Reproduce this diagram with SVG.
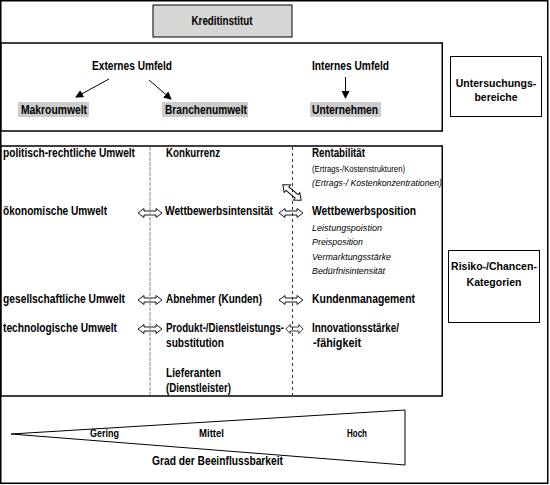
<svg xmlns="http://www.w3.org/2000/svg" width="550" height="485" viewBox="0 0 550 485">
<defs>
<style>
text{font-family:"Liberation Sans Narrow","Liberation Sans",Arial,sans-serif;fill:#000}
.b{font-weight:bold;font-size:12.5px}
.bl{font-weight:bold;font-size:13.5px}
.bs{font-weight:bold;font-size:10.5px}
.s{font-size:9.5px}
.i{font-size:9.5px;font-style:italic}
.box{fill:none;stroke:#000;stroke-width:1.5}
.lab{fill:#cccccc}
.dbl{fill:#fff;stroke:#000;stroke-width:0.9}
.ln{stroke:#000;stroke-width:1;fill:none}
</style>
<marker id="ah" markerWidth="8" markerHeight="8" refX="7" refY="4" orient="auto" markerUnits="userSpaceOnUse">
<path d="M0,0 L8,4 L0,8 z" fill="#000"/>
</marker>
<polygon id="dh" points="-12,0 -6,-4.5 -6,-2 6,-2 6,-4.5 12,0 6,4.5 6,2 -6,2 -6,4.5"/>
</defs>
<rect x="0.75" y="0.75" width="547" height="482.5" fill="#fff" stroke="#000" stroke-width="1.5"/>

<g id="kreditinstitut">
<rect x="153" y="5" width="139" height="32" fill="#d6d6d6" stroke="#000" stroke-width="1"/>
<text class="b" x="222" y="25" text-anchor="middle" textLength="61" lengthAdjust="spacingAndGlyphs">Kreditinstitut</text>
</g>

<g id="umfeld-box">
<rect class="box" x="0.75" y="43" width="441.5" height="88"/>
<text class="b" x="92" y="70" textLength="80" lengthAdjust="spacingAndGlyphs">Externes Umfeld</text>
<text class="b" x="312" y="70" textLength="77" lengthAdjust="spacingAndGlyphs">Internes Umfeld</text>
</g>
<g id="makroumwelt">
<rect class="lab" x="18" y="102" width="71" height="15"/>
<text class="b" x="21" y="114" textLength="66" lengthAdjust="spacingAndGlyphs">Makroumwelt</text>
</g>
<g id="branchenumwelt">
<rect class="lab" x="162" y="102" width="86" height="15"/>
<text class="b" x="165" y="114" textLength="82" lengthAdjust="spacingAndGlyphs">Branchenumwelt</text>
</g>
<g id="unternehmen">
<rect class="lab" x="310" y="102" width="71" height="15"/>
<text class="b" x="312" y="114" textLength="66" lengthAdjust="spacingAndGlyphs">Unternehmen</text>
</g>

<g id="untersuchungsbereiche">
<rect x="450.5" y="56.5" width="91" height="60" fill="none" stroke="#000" stroke-width="1"/>
<text class="bs" x="496" y="87" text-anchor="middle">Untersuchungs-</text>
<text class="bs" x="496" y="101" text-anchor="middle">bereiche</text>
</g>

<g id="kategorien-box">
<rect class="box" x="0.75" y="146" width="441.5" height="250"/>
</g>

<g id="risiko">
<rect x="448.5" y="250.5" width="91" height="72" fill="none" stroke="#000" stroke-width="1"/>
<text class="bs" x="494" y="270" text-anchor="middle">Risiko-/Chancen-</text>
<text class="bs" x="494" y="286" text-anchor="middle">Kategorien</text>
</g>

<g id="makro-col">
<text class="b" x="3" y="157" textLength="132" lengthAdjust="spacingAndGlyphs">politisch-rechtliche Umwelt</text>
<text class="b" x="3" y="215" textLength="104" lengthAdjust="spacingAndGlyphs">ökonomische Umwelt</text>
<text class="b" x="3" y="303" textLength="122" lengthAdjust="spacingAndGlyphs">gesellschaftliche Umwelt</text>
<text class="b" x="3" y="332" textLength="114" lengthAdjust="spacingAndGlyphs">technologische Umwelt</text>
</g>

<g id="branchen-col">
<text class="b" x="166" y="157" textLength="54" lengthAdjust="spacingAndGlyphs">Konkurrenz</text>
<text class="b" x="165" y="215" textLength="108" lengthAdjust="spacingAndGlyphs">Wettbewerbsintensität</text>
<text class="b" x="166" y="303" textLength="96" lengthAdjust="spacingAndGlyphs">Abnehmer (Kunden)</text>
<text class="b" x="166" y="332" textLength="118" lengthAdjust="spacingAndGlyphs">Produkt-/Dienstleistungs-</text>
<text class="b" x="166" y="347" textLength="58" lengthAdjust="spacingAndGlyphs">substitution</text>
<text class="b" x="166" y="377" textLength="55" lengthAdjust="spacingAndGlyphs">Lieferanten</text>
<text class="b" x="166" y="392" textLength="65" lengthAdjust="spacingAndGlyphs">(Dienstleister)</text>
</g>

<g id="unternehmen-col">
<text class="bl" x="312" y="157" textLength="53" lengthAdjust="spacingAndGlyphs">Rentabilität</text>
<text class="s" x="312" y="172" textLength="93" lengthAdjust="spacingAndGlyphs">(Ertrags-/Kostenstrukturen)</text>
<text class="i" x="312" y="186" textLength="130" lengthAdjust="spacingAndGlyphs">(Ertrags-/ Kostenkonzentrationen)</text>
<text class="bl" x="312" y="215" textLength="104" lengthAdjust="spacingAndGlyphs">Wettbewerbsposition</text>
<text class="i" x="312" y="231" textLength="70" lengthAdjust="spacingAndGlyphs">Leistungspoistion</text>
<text class="i" x="312" y="245" textLength="51" lengthAdjust="spacingAndGlyphs">Preisposition</text>
<text class="i" x="312" y="260" textLength="79" lengthAdjust="spacingAndGlyphs">Vermarktungsstärke</text>
<text class="i" x="312" y="274" textLength="73" lengthAdjust="spacingAndGlyphs">Bedürfnisintensität</text>
<text class="b" x="312" y="303" textLength="103" lengthAdjust="spacingAndGlyphs">Kundenmanagement</text>
<text class="b" x="312" y="332" textLength="87" lengthAdjust="spacingAndGlyphs">Innovationsstärke/</text>
<text class="b" x="313" y="347" textLength="48" lengthAdjust="spacingAndGlyphs">-fähigkeit</text>
</g>

<g id="beeinflussbarkeit">
<polygon points="11,434 405,410 405,465" fill="none" stroke="#000" stroke-width="1"/>
<text class="b" x="90" y="437" style="font-size:10px" textLength="29" lengthAdjust="spacingAndGlyphs">Gering</text>
<text class="b" x="199" y="437" style="font-size:10px" textLength="25" lengthAdjust="spacingAndGlyphs">Mittel</text>
<text class="b" x="347" y="437" style="font-size:10px" textLength="20" lengthAdjust="spacingAndGlyphs">Hoch</text>
<text class="b" x="152" y="465" textLength="131" lengthAdjust="spacingAndGlyphs">Grad der Beeinflussbarkeit</text>
</g>

<g id="connectors">
<line class="ln" x1="109" y1="79" x2="76" y2="97" marker-end="url(#ah)"/>
<line class="ln" x1="149" y1="80" x2="171" y2="99" marker-end="url(#ah)"/>
<line class="ln" x1="345.5" y1="77" x2="345.5" y2="98" marker-end="url(#ah)"/>
<use href="#dh" class="dbl" transform="translate(150,213)"/>
<use href="#dh" class="dbl" transform="translate(150,300)"/>
<use href="#dh" class="dbl" transform="translate(150,329)"/>
<use href="#dh" class="dbl" transform="translate(291,213)"/>
<use href="#dh" class="dbl" transform="translate(291,300)"/>
<use href="#dh" class="dbl" transform="translate(294.5,329) scale(0.72,1)"/>
<use href="#dh" class="dbl" transform="translate(292,192.5) rotate(40) scale(1,1.1)"/>
<line x1="150" y1="147" x2="150" y2="395" stroke="#888" stroke-width="1" stroke-dasharray="4,1"/>
<line x1="292.5" y1="147" x2="292.5" y2="395" stroke="#000" stroke-width="0.8" stroke-dasharray="3,3"/>
</g>
</svg>
